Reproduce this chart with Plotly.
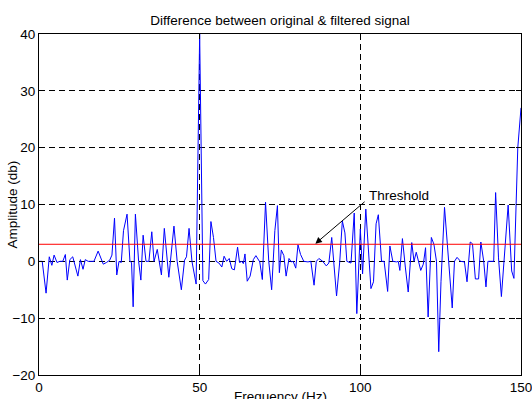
import plotly.graph_objects as go

# Difference spectrum (frequency in Hz, amplitude in dB)
freq = [0, 1.0, 2.2, 3.2, 4.0, 4.7, 5.6, 6.5, 7.4, 8.2, 8.8, 9.6, 10.5, 11.2, 12.1, 12.9,
        13.7, 14.4, 15.3, 16.2, 17.1, 18.4, 19.2, 20.0, 21.0, 22.0, 22.7, 23.5, 24.2, 24.9,
        25.6, 26.3, 27.4, 28.3, 28.8, 29.3, 30.0, 31.0, 31.7, 32.4, 33.3, 34.2, 35.1, 35.8,
        36.8, 38.1, 39.0, 40.4, 42.0, 43.0, 44.3, 45.3, 45.9, 46.7, 47.6, 48.9, 50.0, 51.0,
        51.8, 52.8, 53.5, 54.3, 55.1, 56.0, 56.9, 57.6, 58.4, 59.2, 60.0, 60.8, 61.8, 62.4,
        63.1, 63.6, 64.1, 64.8, 65.7, 66.7, 67.5, 68.7, 69.5, 70.5, 71.5, 72.4, 73.4, 74.2,
        74.8, 75.4, 76.2, 76.9, 77.8, 78.5, 79.1, 79.9, 80.6, 81.4, 82.4, 83.7, 84.6, 85.6,
        86.3, 87.1, 88.3, 89.4, 90.2, 91.1, 92.6, 93.6, 94.4, 95.2, 95.8, 97.1, 98.1, 98.9,
        100.0, 100.7, 101.7, 103.3, 104.1, 104.9, 105.6, 106.6, 107.4, 108.5, 109.2, 110.1,
        111.3, 111.8, 112.3, 113.1, 114.0, 114.9, 116.0, 116.7, 117.4, 117.9, 118.8, 119.6,
        120.3, 121.1, 122.1, 122.9, 123.7, 124.4, 125.1, 126.2, 127.2, 128.6, 129.3, 130.1,
        131.2, 132.4, 133.2, 134.2, 134.9, 135.8, 136.8, 137.5, 138.4, 139.1, 139.7, 141.5,
        142.1, 143.0, 143.9, 144.8, 146.0, 147.1, 147.8, 149.0, 150.0]
amplitude = [0.0, 0.0, -5.6, 0.8, -0.7, 1.1, -0.2, 0.0, 0.0, 1.2, -3.3, 0.3, 0.8, -0.9, -2.6, 0.3,
             -1.4, 0.3, 0.0, 0.0, 0.0, 1.8, 0.5, -0.5, -0.2, 0.2, 1.1, 7.6, -2.4, 0.0,
             -0.2, 5.4, 8.3, 0.0, -0.2, -8.0, 8.3, 0.0, -3.3, 4.6, 0.0, 0.0, 5.2, 0.0,
             2.1, -2.4, 5.8, -2.8, 6.2, 0.0, -5.0, 0.2, 0.8, 5.8, 0.0, -4.0, 40.0, -3.4,
             -4.0, -3.2, 7.0, 4.2, 0.0, -0.3, -1.0, 0.9, 0.0, 0.5, -1.3, -1.5, 2.5, -0.2,
             0.0, -0.4, 1.3, -3.5, -2.6, 0.3, 1.0, -0.1, -3.2, 10.4, 0.0, -5.0, 5.4, 9.8,
             -2.0, 2.0, 1.0, -2.6, 0.5, -0.1, 0.0, -1.2, 2.9, 1.2, 0.0, -0.1, 0.0, -4.2,
             0.0, 0.5, 0.0, -0.8, -0.3, 4.2, -6.1, 0.0, 7.1, 5.0, 0.0, -0.3, 8.5, -9.2,
             5.7, -2.2, 9.2, -4.8, -3.6, 6.6, 8.2, 0.0, 0.0, -5.3, 2.7, 0.0,
             -0.1, 0.0, -1.6, 4.0, -1.0, -5.4, 3.3, 0.0, 1.6, 0.5, -1.6, -0.5,
             2.4, -9.8, 4.2, 3.0, 0.0, -15.9, -3.6, 9.5, 2.4, -8.2, 0.0, 0.7,
             0.0, -0.1, -3.6, 3.4, 3.1, -3.1, -3.1, 3.4, 0.0, -4.5, 0.0, 0.0,
             12.1, 0.6, -6.2, 1.2, 9.9, -1.7, -3.0, 20.0, 27.0]

threshold_db = 3.0
threshold_x = [0, 150]
threshold_y = [threshold_db, threshold_db]

x_ticks = [0, 50, 100, 150]
y_ticks = [-20, -10, 0, 10, 20, 30, 40]

title_text = "Difference between original & filtered signal"
x_label = "Frequency (Hz)"
y_label = "Amplitude (db)"
arrow_label = "Threshold"

FONT = "Liberation Sans, Arial, sans-serif"
FS = 13.5

fig = go.Figure()
fig.add_trace(go.Scatter(x=freq, y=amplitude, mode="lines",
                         line=dict(color="#0000ff", width=1), showlegend=False,
                         hoverinfo="skip"))
fig.add_trace(go.Scatter(x=threshold_x, y=threshold_y, mode="lines",
                         line=dict(color="#ff0000", width=1), showlegend=False,
                         hoverinfo="skip"))

axis_common = dict(
    automargin=False, ticklabeloverflow="allow",
    showline=True, linecolor="black", linewidth=1, mirror="ticks",
    ticks="inside", ticklen=5, tickwidth=1, tickcolor="black",
    showgrid=True, gridcolor="black", gridwidth=1, griddash="6px,4px",
    zeroline=False, tickfont=dict(family=FONT, size=FS, color="black"),
)

fig.update_layout(
    template="none",
    width=532, height=399,
    margin=dict(l=39, r=11, t=34, b=24, autoexpand=False),
    paper_bgcolor="white", plot_bgcolor="white",
    font=dict(family=FONT, size=FS, color="black"),
    xaxis=dict(range=[0, 150], tickvals=x_ticks, **axis_common),
    yaxis=dict(range=[-20, 40], tickvals=y_ticks, **axis_common),
    title=dict(text=title_text, x=0.5, xref="paper", xanchor="center",
               y=(399 - 20) / 399, yref="container", yanchor="middle",
               font=dict(family=FONT, size=FS, color="black")),
    annotations=[
        dict(text=x_label, xref="paper", yref="paper", x=0.5, y=0,
             xanchor="center", yanchor="top", yshift=-12, showarrow=False,
             font=dict(family=FONT, size=FS, color="black")),
        dict(text=y_label, xref="paper", yref="paper", x=0, y=0.5,
             xanchor="center", yanchor="middle", xshift=-27, textangle=-90,
             showarrow=False, font=dict(family=FONT, size=FS, color="black")),
        dict(text=arrow_label, xref="x", yref="y", x=112, y=11.6,
             xanchor="center", yanchor="middle", showarrow=False,
             font=dict(family=FONT, size=FS, color="black")),
        dict(text="", xref="x", yref="y", x=86, y=3.1, axref="x", ayref="y",
             ax=101.8, ay=10.7, showarrow=True, arrowhead=2, arrowsize=1.3,
             arrowwidth=1, arrowcolor="black"),
    ],
)

fig.write_html("out.html")
